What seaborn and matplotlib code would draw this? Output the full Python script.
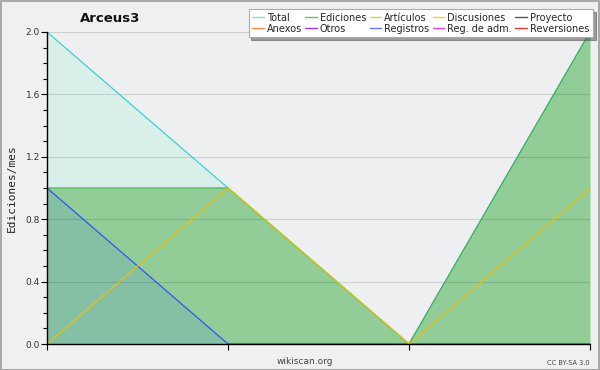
import matplotlib
matplotlib.use("Agg")
import matplotlib.pyplot as plt
from matplotlib.lines import Line2D
from matplotlib.patches import Rectangle
from matplotlib.ticker import MultipleLocator
import seaborn as sns
import pandas as pd
import numpy as np

# ---- data ----
months = [0, 1, 2, 3]
total = [2, 1, 0, 2]
ediciones = [1, 1, 0, 2]
discusiones = [0, 1, 0, 1]
registros = [1, 0, 0, 0]

legend_labels = ["Total", "Ediciones", "Artículos", "Discusiones", "Proyecto",
                 "Anexos", "Otros", "Registros", "Reg. de adm.", "Reversiones"]
legend_colors = ["#80dfe0", "#66c266", "#bbee22", "#ffc822", "#555555",
                 "#ff8844", "#9933ee", "#6677ff", "#dd44ee", "#ee3333"]

sns.set_theme(style="white")
plt.rcParams['font.family'] = ['DejaVu Sans']

fig = plt.figure(figsize=(6, 3.7), dpi=100, facecolor="#f0f0f0")
ax = fig.add_axes([47/600, 26/370, 543/600, 312/370])
ax.set_facecolor("#eeeff1")

df = pd.DataFrame({"x": months, "total": total, "ediciones": ediciones,
                   "discusiones": discusiones, "registros": registros})

# fills
ax.fill_between(df["x"], 0, df["total"], color="#d9f0ea", lw=0, zorder=1)
ax.fill_between(df["x"], 0, df["ediciones"], color="#92cc96", lw=0, zorder=2)
ax.fill_between(df["x"], 0, df["registros"], color="#85c0a5", lw=0, zorder=3)

# lines
sns.lineplot(data=df, x="x", y="total", color="#40d0d0", lw=0.9, ax=ax, zorder=4)
sns.lineplot(data=df, x="x", y="ediciones", color="#3db54a", lw=0.9, ax=ax, zorder=5)
sns.lineplot(data=df, x="x", y="registros", color="#3355ee", lw=0.9, ax=ax, zorder=6)
sns.lineplot(data=df, x="x", y="discusiones", color="#e8c010", lw=0.9, ax=ax, zorder=7)

ax.set_xlim(0, 3)
ax.set_ylim(0, 2)
ax.set_xticks(months)
ax.set_xticklabels([])
ax.yaxis.set_major_locator(MultipleLocator(0.4))
ax.yaxis.set_minor_locator(MultipleLocator(0.1))
ax.set_yticklabels([f"{v:.1f}" for v in ax.get_yticks()])
ax.tick_params(axis="y", which="major", direction="out", length=4, width=0.8,
               color="black", labelsize=6.5, labelcolor="#333333", pad=1, left=True)
ax.tick_params(axis="y", which="minor", direction="out", length=3, width=0.8,
               color="black", left=True)
ax.tick_params(axis="x", which="major", direction="out", length=4, width=0.8,
               color="black", bottom=True)
for yv in [0.4, 0.8, 1.2, 1.6, 2.0]:
    ax.axhline(yv, color="black", alpha=0.12, lw=0.8, zorder=3.5)
for s in ["top", "right"]:
    ax.spines[s].set_visible(False)
for s in ["left", "bottom"]:
    ax.spines[s].set_color("black")
    ax.spines[s].set_linewidth(1.0)
    ax.spines[s].set_zorder(10)
ax.set_xlabel("")
ax.set_ylabel("Ediciones/mes", fontsize=8, family="DejaVu Sans Mono", color="#222222", labelpad=6)

fig.text(110/600, 1 - 18/370, "Arceus3", fontsize=9.5, fontweight="bold",
         ha="center", va="center", color="#111111")
fig.text(305/600, 1 - 362/370, "wikiscan.org", fontsize=6.5, ha="center",
         va="center", color="#444444")
fig.text(590/600, 1 - 363/370, "CC BY-SA 3.0", fontsize=4.8, ha="right",
         va="center", color="#444444")

handles = [Line2D([0], [0], color=c, lw=1) for c in legend_colors]
# reorder so that ncol=5 (column-major) gives two rows as in the reference
order = []
for i in range(5):
    order += [i, i + 5]
leg = fig.legend([handles[i] for i in order], [legend_labels[i] for i in order],
                 ncol=5, loc="upper right", bbox_to_anchor=(0.988, 0.975),
                 fontsize=7, frameon=True, fancybox=False, shadow=True,
                 handlelength=1.2, handletextpad=0.3, columnspacing=0.35,
                 labelspacing=0.1, borderpad=0.35, borderaxespad=0)
leg.get_frame().set_edgecolor("#aaaaaa")
leg.get_frame().set_linewidth(0.8)
leg.set_zorder(20)

fig.patches.append(Rectangle((0.001, 0.001), 0.998, 0.997, transform=fig.transFigure,
                             fill=False, edgecolor="#aaaaaa", lw=1.5))

fig.savefig("out.png", dpi=100, facecolor=fig.get_facecolor())
